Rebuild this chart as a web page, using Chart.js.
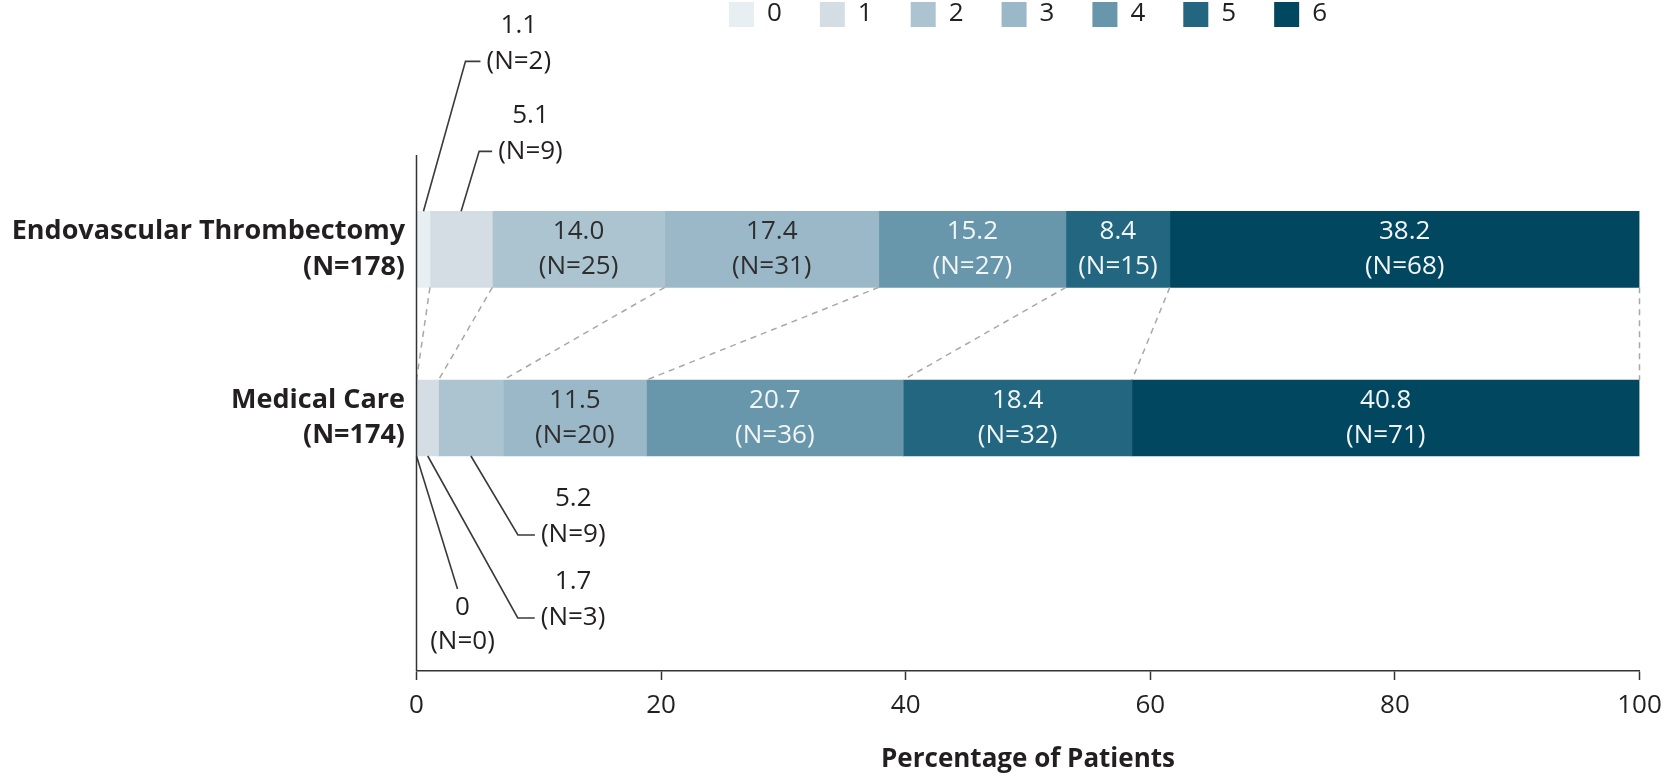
<!DOCTYPE html>
<html>
<head>
<meta charset="utf-8">
<script src="https://cdn.jsdelivr.net/npm/chart.js@4.4.1/dist/chart.umd.min.js"></script>
<style>
  html, body { margin: 0; padding: 0; background: #fff; }
  #wrap { width: 1679px; height: 776px; position: relative; }
</style>
</head>
<body>
<div id="wrap"><canvas id="chart"></canvas></div>
<script>
// mRS distribution per group; share = drawn width, pct/n = printed labels
const groups   = [['Endovascular Thrombectomy', '(N=178)'], ['Medical Care', '(N=174)'], ''];
const scores   = ['0', '1', '2', '3', '4', '5', '6'];
const evtShare = [1.1, 5.1, 14.1, 17.5, 15.3, 8.5, 38.4];
const mcShare  = [0, 1.8, 5.3, 11.7, 21.0, 18.7, 41.5];
const evtPct   = [1.1, 5.1, 14.0, 17.4, 15.2, 8.4, 38.2];
const mcPct    = [0, 1.7, 5.2, 11.5, 20.7, 18.4, 40.8];
const evtN     = [2, 9, 25, 31, 27, 15, 68];
const mcN      = [0, 3, 9, 20, 36, 32, 71];
const xTicks   = [0, 20, 40, 60, 80, 100];

const COLORS = ['#e7eff3', '#d4dde4', '#abc4d0', '#9bb8c9', '#6896aa', '#22677f', '#00475f'];
const INK    = ['#2e2e2e', '#2e2e2e', '#2e2e2e', '#2e2e2e', '#f2f6f8', '#f2f6f8', '#f2f6f8'];
const TEXT   = '#231f20';
const FONT   = '"Open Sans", "Noto Sans", sans-serif';

const pcts = [evtPct, mcPct];
const ns   = [evtN, mcN];
const fmtPct = v => v === 0 ? '0' : v.toFixed(1);

// small segments get a leader line instead of an inside label
const callouts = [
  { bar: 0, seg: 0, dx: 42, dy: -150, hook: 15 },
  { bar: 0, seg: 1, dx: 18, dy: -60,  hook: 13 },
  { bar: 1, seg: 0, dx: 41, dy: 133,  hook: 0 },
  { bar: 1, seg: 1, dx: 90, dy: 162,  hook: 17 },
  { bar: 1, seg: 2, dx: 47, dy: 79,   hook: 17 },
];
const isCallout = (bar, seg) => callouts.some(c => c.bar === bar && c.seg === seg);

const annotations = {
  id: 'annotations',
  afterDatasetsDraw(chart) {
    const ctx = chart.ctx;
    const seg = (k, i) => chart.getDatasetMeta(k).data[i];
    ctx.save();

    // dashed connectors between category boundaries
    ctx.strokeStyle = '#a8a8a8';
    ctx.lineWidth = 1.5;
    ctx.setLineDash([6, 5]);
    scores.forEach((s, k) => {
      const a = seg(k, 0), b = seg(k, 1);
      ctx.beginPath();
      ctx.moveTo(a.x, a.y + a.height / 2);
      ctx.lineTo(b.x, b.y - b.height / 2);
      ctx.stroke();
    });
    ctx.setLineDash([]);

    // labels inside bars
    ctx.font = '26px ' + FONT;
    ctx.textAlign = 'center';
    ctx.textBaseline = 'middle';
    [0, 1].forEach(i => {
      scores.forEach((s, k) => {
        if (isCallout(i, k)) return;
        const el = seg(k, i);
        const cx = (el.x + el.base) / 2;
        ctx.fillStyle = INK[k];
        ctx.fillText(fmtPct(pcts[i][k]), cx, el.y - 17.5);
        ctx.fillText('(N=' + ns[i][k] + ')', cx, el.y + 17.5);
      });
    });

    // leader lines with labels
    ctx.strokeStyle = '#3a3a3a';
    ctx.lineWidth = 1.6;
    ctx.fillStyle = TEXT;
    callouts.forEach(c => {
      const el = seg(c.seg, c.bar);
      const sx = (el.x + el.base) / 2;
      const sy = c.dy < 0 ? el.y - el.height / 2 : el.y + el.height / 2;
      const ex = sx + c.dx, ey = sy + c.dy;
      ctx.beginPath();
      ctx.moveTo(sx, sy);
      ctx.lineTo(ex, ey);
      if (c.hook) ctx.lineTo(ex + c.hook, ey);
      ctx.stroke();
      const t1 = fmtPct(pcts[c.bar][c.seg]);
      const t2 = '(N=' + ns[c.bar][c.seg] + ')';
      if (c.hook) {
        const tx = ex + c.hook + 6 + ctx.measureText(t2).width / 2;
        ctx.fillText(t1, tx, ey - 36);
        ctx.fillText(t2, tx, ey);
      } else {
        ctx.fillText(t1, ex + 5, ey + 19);
        ctx.fillText(t2, ex + 5, ey + 53);
      }
    });
    ctx.restore();
  },
  afterDraw(chart) {
    const ctx = chart.ctx, area = chart.chartArea;
    ctx.save();
    // y axis line (extends a little above the plot)
    ctx.strokeStyle = '#333';
    ctx.lineWidth = 1.5;
    ctx.beginPath();
    ctx.moveTo(area.left, area.top - 10);
    ctx.lineTo(area.left, area.bottom);
    ctx.stroke();

    // legend centred over the plot area
    ctx.font = '26px ' + FONT;
    ctx.textAlign = 'left';
    ctx.textBaseline = 'middle';
    const box = 25, gap = 13, pad = 38;
    const widths = scores.map(s => box + gap + ctx.measureText(s).width);
    const total = widths.reduce((a, b) => a + b, 0) + pad * (scores.length - 1);
    let x = (area.left + area.right) / 2 - total / 2;
    scores.forEach((s, k) => {
      ctx.fillStyle = COLORS[k];
      ctx.fillRect(x, 2, box, box);
      ctx.fillStyle = TEXT;
      ctx.fillText(s, x + box + gap, 14);
      x += widths[k] + pad;
    });
    ctx.restore();
  },
};

new Chart(document.getElementById('chart'), {
  type: 'bar',
  data: {
    labels: groups,
    datasets: scores.map((s, k) => ({
      label: s,
      data: [evtShare[k], mcShare[k], null],
      backgroundColor: COLORS[k],
      borderWidth: 0,
      barThickness: 76,
    })),
  },
  options: {
    indexAxis: 'y',
    responsive: true, maintainAspectRatio: false,
    animation: false,
    layout: { padding: { top: 165, right: 39.5, bottom: 0, left: 0 } },
    plugins: {
      legend: { display: false },
      tooltip: { enabled: false },
    },
    scales: {
      x: {
        stacked: true, min: 0, max: 100,
        afterBuildTicks: s => { s.ticks = xTicks.map(v => ({ value: v })); },
        grid: { drawOnChartArea: false, drawTicks: true, tickLength: 9, tickColor: '#333', tickWidth: 1.5 },
        border: { display: true, color: '#333', width: 1.5 },
        ticks: { color: TEXT, padding: 10, maxRotation: 0, font: { family: FONT, size: 26, lineHeight: 1.2 } },
        title: {
          display: true, text: 'Percentage of Patients', color: TEXT,
          font: { family: FONT, size: 26, weight: 'bold', lineHeight: 1.2 },
          padding: { top: 12.6, bottom: 1 },
        },
      },
      y: {
        stacked: true,
        afterFit: s => { s.width = 416.5; },
        grid: { display: false, drawTicks: false },
        border: { display: false },
        ticks: { color: TEXT, padding: 11.5, font: { family: FONT, size: 27, weight: 'bold', lineHeight: 1.3 } },
      },
    },
  },
  plugins: [annotations],
});
</script>
</body>
</html>
